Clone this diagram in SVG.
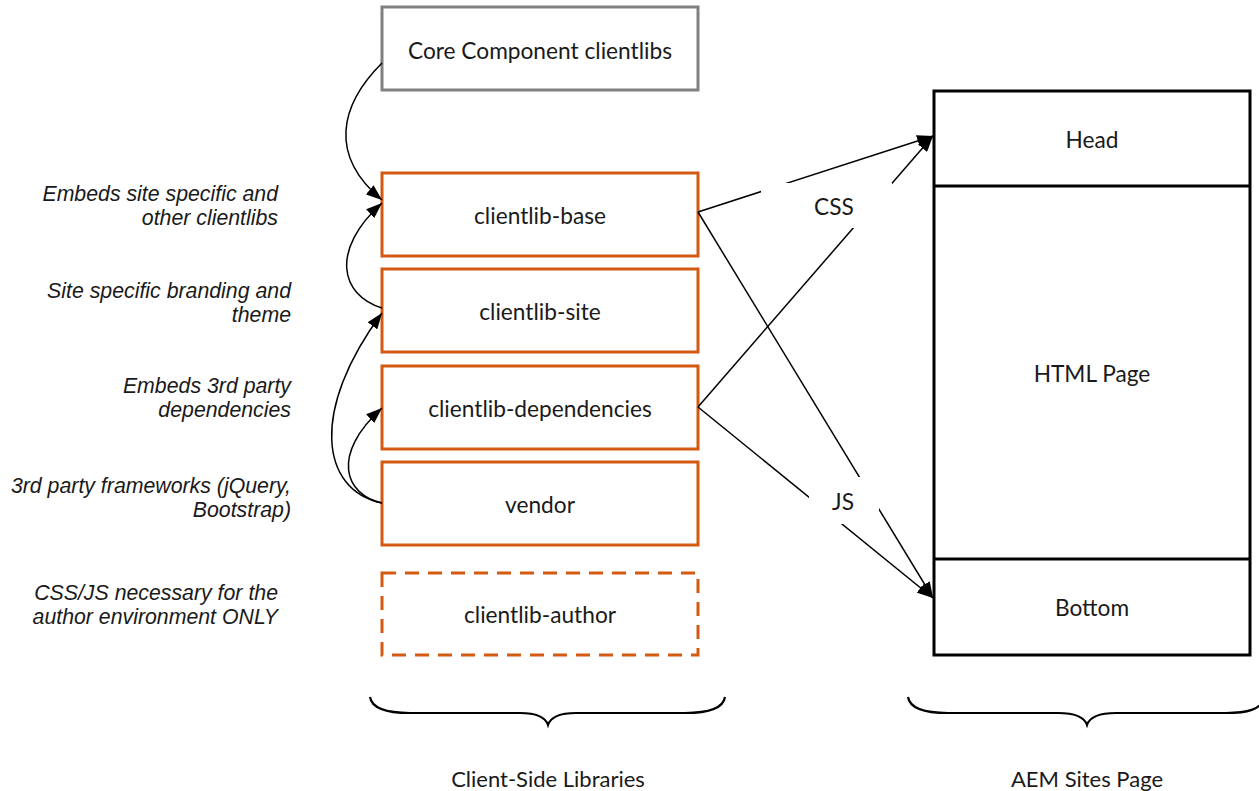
<svg xmlns="http://www.w3.org/2000/svg" width="1259" height="791" viewBox="0 0 1259 791">
<defs>
<style>
.lib{fill:#fff;stroke:#d45a12;stroke-width:3}
.core{fill:#fff;stroke:#808080;stroke-width:3}
.page{fill:#fff;stroke:#000;stroke-width:3}
.t{font-family:Lato,"Open Sans",sans-serif;font-size:22.7px;fill:#1a1a1a;text-anchor:middle;dominant-baseline:central}
.cap{font-size:22px}
.note{font-family:"Liberation Sans",Arial,sans-serif;font-style:italic;font-size:21.3px;fill:#1a1a1a;text-anchor:end}
.c{fill:none;stroke:#000;stroke-width:1.5}
.brace{fill:none;stroke:#000;stroke-width:2.2}
</style>
<marker id="ah" markerUnits="userSpaceOnUse" markerWidth="16" markerHeight="12" viewBox="0 0 16 12" refX="16" refY="6" orient="auto">
<path d="M0,0 L16,6 L0,12 Z" fill="#000"/>
</marker>
</defs>

<g id="notes">
<text class="note" x="278" y="201">Embeds site specific and</text>
<text class="note" x="278" y="225">other clientlibs</text>
<text class="note" x="291" y="298">Site specific branding and</text>
<text class="note" x="291" y="322">theme</text>
<text class="note" x="291" y="393">Embeds 3rd party</text>
<text class="note" x="291" y="417">dependencies</text>
<text class="note" x="291" y="493">3rd party frameworks (jQuery,</text>
<text class="note" x="291" y="517">Bootstrap)</text>
<text class="note" x="278" y="600">CSS/JS necessary for the</text>
<text class="note" x="278" y="624">author environment ONLY</text>
</g>

<g id="core">
<rect class="core" x="382" y="7" width="316" height="83"/>
<text class="t" x="540" y="50">Core Component clientlibs</text>
</g>
<g id="clientlib-base">
<rect class="lib" x="382" y="173" width="316" height="83"/>
<text class="t" x="540" y="215">clientlib-base</text>
</g>
<g id="clientlib-site">
<rect class="lib" x="382" y="269" width="316" height="83"/>
<text class="t" x="540" y="311">clientlib-site</text>
</g>
<g id="clientlib-dependencies">
<rect class="lib" x="382" y="366" width="316" height="83"/>
<text class="t" x="540" y="408">clientlib-dependencies</text>
</g>
<g id="vendor">
<rect class="lib" x="382" y="462" width="316" height="83"/>
<text class="t" x="540" y="504">vendor</text>
</g>
<g id="clientlib-author">
<rect class="lib" x="382" y="573" width="316" height="82" stroke-dasharray="14,9"/>
<text class="t" x="540" y="614">clientlib-author</text>
</g>

<g id="aem-page">
<rect class="page" x="934" y="91" width="316" height="564"/>
<line x1="934" y1="186" x2="1250" y2="186" stroke="#000" stroke-width="3"/>
<line x1="934" y1="559" x2="1250" y2="559" stroke="#000" stroke-width="3"/>
<text class="t" x="1092" y="139">Head</text>
<text class="t" x="1092" y="373">HTML Page</text>
<text class="t" x="1092" y="607">Bottom</text>
</g>

<g id="connectors">
<path class="c" d="M382,63 C340,105 328,155 382,200" marker-end="url(#ah)"/>
<path class="c" d="M382,308 C340,295 330,250 382,203" marker-end="url(#ah)"/>
<path class="c" d="M382,503 C320,490 310,410 382,313" marker-end="url(#ah)"/>
<path class="c" d="M382,503 C345,495 330,455 382,408" marker-end="url(#ah)"/>
<line class="c" x1="698" y1="212" x2="933" y2="136" marker-end="url(#ah)"/>
<line class="c" x1="698" y1="407" x2="933" y2="136" marker-end="url(#ah)"/>
<line class="c" x1="698" y1="212" x2="933" y2="598" marker-end="url(#ah)"/>
<line class="c" x1="698" y1="407" x2="933" y2="598" marker-end="url(#ah)"/>
<rect x="761" y="183" width="131" height="45" fill="#fff"/>
<rect x="809" y="477" width="70" height="47" fill="#fff"/>
<text class="t" x="834" y="206">CSS</text>
<text class="t" x="843" y="501">JS</text>
</g>

<g id="braces">
<path class="brace" d="M370,697 C372,710 390,713 410,713 L520,713 C535,713 545,716 548,725 C551,716 561,713 576,713 L685,713 C705,713 723,710 725,697"/>
<path class="brace" d="M908,697 C910,710 928,713 948,713 L1058,713 C1073,713 1084,716 1087,725 C1090,716 1101,713 1116,713 L1226,713 C1246,713 1262,710 1264,697"/>
<text class="t cap" x="548" y="778">Client-Side Libraries</text>
<text class="t cap" x="1087" y="778">AEM Sites Page</text>
</g>
</svg>
